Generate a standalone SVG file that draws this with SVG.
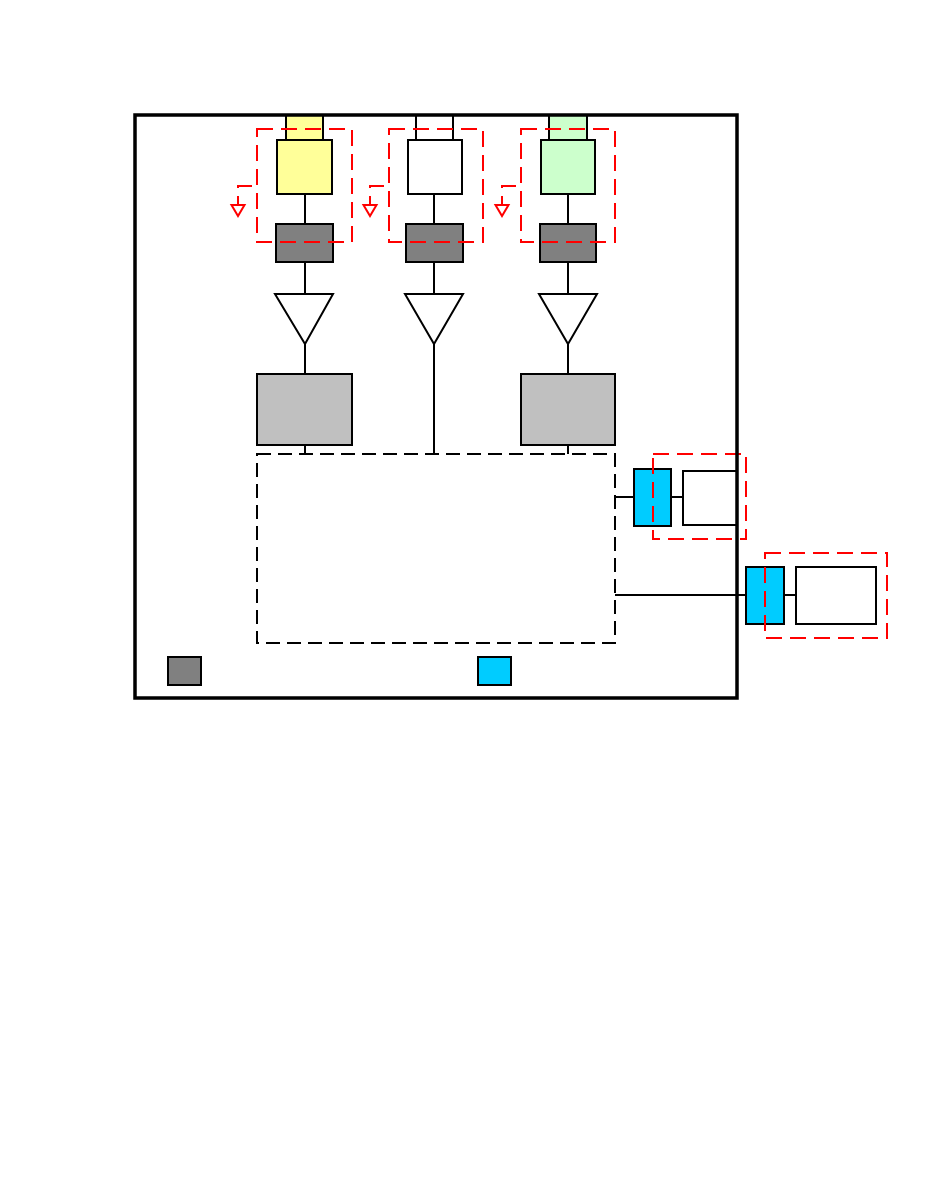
<svg xmlns="http://www.w3.org/2000/svg" width="950" height="1177" viewBox="0 0 950 1177">
<style>
.b{stroke:#000;stroke-width:2}
.ln{stroke:#000;stroke-width:2;fill:none}
.red{stroke:#FF0000;stroke-width:2;fill:none;stroke-dasharray:16,8}
.redg{stroke:#FF0000;stroke-width:2;fill:none}
.dbox{stroke:#000;stroke-width:2;fill:none;stroke-dasharray:14,7}
.y{fill:#FFFF99}.w{fill:#FFFFFF}.g{fill:#CCFFCC}.dg{fill:#808080}.lg{fill:#C0C0C0}.bl{fill:#00CCFF}
</style>
<rect width="950" height="1177" fill="#fff"/>
<g id="connectors">
<path class="ln" d="M305 194V224M305 262V294M305 344V374M305 445V454"/>
<path class="ln" d="M434 194V224M434 262V294M434 344V454"/>
<path class="ln" d="M568 194V224M568 262V294M568 344V374M568 445V454"/>
<path class="ln" d="M615 497H634M671 497H683"/>
<path class="ln" d="M615 595H746M784 595H796"/>
</g>
<g id="col1">
<rect class="b y" x="286" y="115" width="37" height="25"/>
<rect class="b y" x="277" y="140" width="55" height="54"/>
<rect class="b dg" x="276" y="224" width="57" height="38"/>
<polygon class="b w" points="275,294 333,294 305,344"/>
<rect class="b lg" x="257" y="374" width="95" height="71"/>
</g>
<g id="col2">
<rect class="b w" x="416" y="115" width="37" height="25"/>
<rect class="b w" x="408" y="140" width="54" height="54"/>
<rect class="b dg" x="406" y="224" width="57" height="38"/>
<polygon class="b w" points="405,294 463,294 434,344"/>
</g>
<g id="col3">
<rect class="b g" x="549" y="115" width="38" height="25"/>
<rect class="b g" x="541" y="140" width="54" height="54"/>
<rect class="b dg" x="540" y="224" width="56" height="38"/>
<polygon class="b w" points="539,294 597,294 568,344"/>
<rect class="b lg" x="521" y="374" width="94" height="71"/>
</g>
<g id="core">
<rect class="dbox" x="257" y="454" width="358" height="189"/>
</g>
<g id="port1">
<rect class="b bl" x="634" y="469" width="37" height="57"/>
<rect class="b w" x="683" y="471" width="54" height="54"/>
</g>
<g id="port2">
<rect class="b bl" x="746" y="567" width="38" height="57"/>
<rect class="b w" x="796" y="567" width="80" height="57"/>
</g>
<g id="legend">
<rect class="b dg" x="168" y="657" width="33" height="28"/>
<rect class="b bl" x="478" y="657" width="33" height="28"/>
</g>
<g id="shields">
<rect class="red" x="257" y="129" width="95" height="113"/>
<path class="red" d="M252 186H238V205" stroke-dasharray="14,9"/>
<polygon class="redg" points="231.5,205 244.5,205 238,216"/>
<rect class="red" x="389" y="129" width="94" height="113"/>
<path class="red" d="M384 186H370V205" stroke-dasharray="14,9"/>
<polygon class="redg" points="363.5,205 376.5,205 370,216"/>
<rect class="red" x="521" y="129" width="94" height="113"/>
<path class="red" d="M516 186H502V205" stroke-dasharray="14,9"/>
<polygon class="redg" points="495.5,205 508.5,205 502,216"/>
<rect class="red" x="653" y="454" width="93" height="85"/>
<rect class="red" x="765" y="553" width="122" height="85"/>
</g>
<g id="frame">
<rect x="135" y="115" width="602" height="583" fill="none" stroke="#000" stroke-width="3.5"/>
</g>
</svg>
